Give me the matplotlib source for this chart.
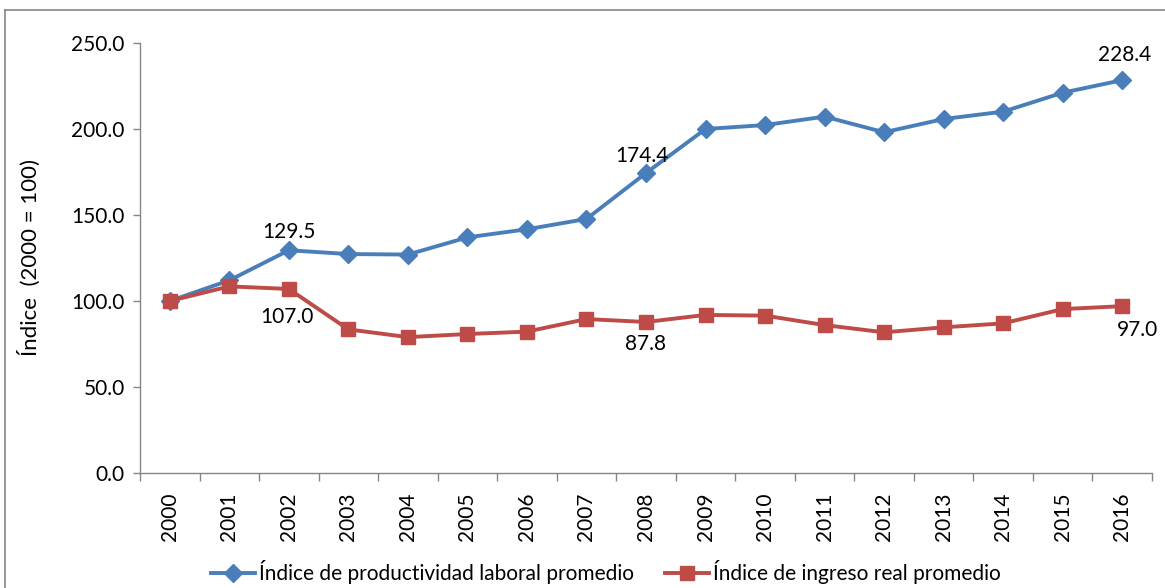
import matplotlib
matplotlib.use("Agg")
import matplotlib.pyplot as plt
from matplotlib.lines import Line2D
from matplotlib.ticker import FormatStrFormatter
import numpy as np

years = [str(y) for y in range(2000, 2017)]
productividad = [100.0, 112.0, 129.5, 127.3, 127.0, 137.0, 141.7, 147.7, 174.4,
                 200.0, 202.3, 207.2, 198.1, 205.8, 210.1, 221.1, 228.4]
ingreso = [100.0, 108.5, 107.0, 83.5, 79.0, 80.8, 82.2, 89.5, 87.8,
           91.9, 91.5, 86.0, 81.8, 84.7, 87.0, 95.3, 97.0]
y_ticks = [0, 50, 100, 150, 200, 250]

label_prod = "Índice de productividad laboral promedio"
label_ing = "Índice de ingreso real promedio"
ylabel = "Índice  (2000 = 100)"

blue = "#4A7EBB"
red = "#BE4B48"
gray = "#868686"

plt.rcParams['font.family'] = ['Lato', 'DejaVu Sans']
FS = 15

W, H = 1165, 588
fig = plt.figure(figsize=(W / 100, H / 100), dpi=100)
ax = fig.add_axes([140 / W, 1 - 473 / H, (1152 - 140) / W, (473 - 43) / H])

x = np.arange(len(years))
ax.plot(x, productividad, color=blue, lw=2.8, marker='D', markersize=9,
        label=label_prod, zorder=3)
ax.plot(x, ingreso, color=red, lw=2.8, marker='s', markersize=10.5,
        label=label_ing, zorder=3)

ax.set_xlim(-0.5, len(years) - 0.5)
ax.set_ylim(0, 250)
ax.set_yticks(y_ticks)
ax.yaxis.set_major_formatter(FormatStrFormatter('%.1f'))

ax.set_xticks(x)
ax.set_xticklabels(years, rotation=90)
ax.set_xticks(np.arange(-0.5, len(years), 1.0), minor=True)
ax.tick_params(axis='x', which='major', length=0, pad=14, labelsize=FS)
ax.tick_params(axis='x', which='minor', length=6, color=gray, width=1)
ax.tick_params(axis='y', which='major', length=5, color=gray, width=1,
               labelsize=FS, pad=6)

for s in ['top', 'right']:
    ax.spines[s].set_visible(False)
for s in ['left', 'bottom']:
    ax.spines[s].set_color(gray)
    ax.spines[s].set_linewidth(1)

ax.set_ylabel(ylabel, fontsize=FS + 1, labelpad=22)

# data labels
def lab(i, series, dx, dy):
    ax.annotate(f"{series[i]:.1f}", (x[i], series[i]), xytext=(dx, dy),
                textcoords='offset points', ha='center', va='center',
                fontsize=FS)

lab(2, productividad, 0, 13)
lab(8, productividad, -3, 12)
lab(16, productividad, 2, 18)
lab(2, ingreso, -1, -20)
lab(8, ingreso, 0, -16)
lab(16, ingreso, 11, -17)

fig.legend(loc='center', bbox_to_anchor=(606 / W, 1 - 572 / H), ncol=2,
           frameon=False, fontsize=FS, handlelength=2.1,
           columnspacing=1.5, handletextpad=0.2)

# chart-area border (left and top edges visible)
fig.add_artist(Line2D([5 / W, 5 / W], [0, 1 - 10 / H], transform=fig.transFigure,
                      color=gray, lw=1.2))
fig.add_artist(Line2D([5 / W, 1], [1 - 10 / H, 1 - 10 / H], transform=fig.transFigure,
                      color=gray, lw=1.2))

fig.savefig("out.png", dpi=100)
